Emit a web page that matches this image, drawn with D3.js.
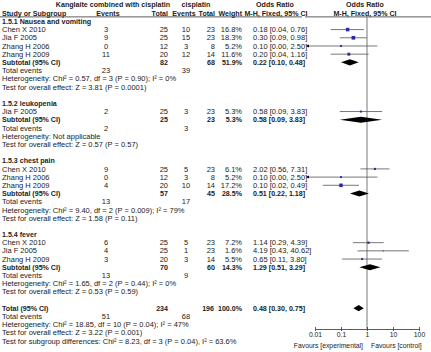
<!DOCTYPE html>
<html><head><meta charset="utf-8">
<script src="https://cdn.jsdelivr.net/npm/d3@7"></script>
<style>
html,body{margin:0;padding:0;background:#fff;}
svg{display:block;font-family:"Liberation Sans",Arial,sans-serif;}
</style></head>
<body><svg id="c" width="431" height="352"></svg>
<script>
// ---------- data ----------
const groupTitles = ["1.5.1 Nausea and vomiting","1.5.2 leukopenia","1.5.3 chest pain","1.5.4 fever"];
const studyGroup  = [0,0,0,0, 1, 2,2,2, 3,3,3];
const studyNames  = ["Chen X 2010","Jia F 2005","Zhang H 2006","Zhang H 2009","Jia F 2005","Chen X 2010","Zhang H 2006","Zhang H 2009","Chen X 2010","Jia F 2005","Zhang H 2009"];
const expEvents   = [3,9,0,11, 2, 9,0,4, 6,4,3];
const expTotal    = [25,25,12,20, 25, 25,12,20, 25,25,20];
const ctlEvents   = [10,15,3,12, 3, 5,3,10, 5,1,3];
const ctlTotal    = [23,23,8,14, 23, 23,8,14, 23,23,14];
const weights     = [16.8,18.3,5.2,11.6, 5.3, 6.1,5.2,17.2, 7.2,1.6,5.5];
const orValues    = [0.18,0.30,0.10,0.20, 0.58, 2.02,0.10,0.10, 1.14,4.19,0.65];
const ciLower     = [0.04,0.09,0.00,0.04, 0.09, 0.56,0.00,0.02, 0.29,0.43,0.11];
const ciUpper     = [0.76,0.98,2.50,1.16, 3.83, 7.31,2.50,0.49, 4.39,40.62,3.80];

const subExpTotal = [82,25,57,70];
const subCtlTotal = [68,23,45,60];
const subWeight   = [51.9,5.3,28.5,14.3];
const subOR       = [0.22,0.58,0.51,1.29];
const subLower    = [0.10,0.09,0.22,0.51];
const subUpper    = [0.48,3.83,1.18,3.29];
const subExpEvents= [23,2,13,13];
const subCtlEvents= [39,3,17,9];
const subHetero   = ["Heterogeneity: Chi² = 0.57, df = 3 (P = 0.90); I² = 0%",
                     "Heterogeneity: Not applicable",
                     "Heterogeneity: Chi² = 9.40, df = 2 (P = 0.009); I² = 79%",
                     "Heterogeneity: Chi² = 1.65, df = 2 (P = 0.44); I² = 0%"];
const subEffect   = ["Test for overall effect: Z = 3.81 (P = 0.0001)",
                     "Test for overall effect: Z = 0.57 (P = 0.57)",
                     "Test for overall effect: Z = 1.58 (P = 0.11)",
                     "Test for overall effect: Z = 0.53 (P = 0.59)"];

const totalExp = 234, totalCtl = 196, totalWeight = 100.0;
const totalOR = 0.48, totalLower = 0.30, totalUpper = 0.75;
const totalExpEvents = 51, totalCtlEvents = 68;
const totalNotes = ["Heterogeneity: Chi² = 18.85, df = 10 (P = 0.04); I² = 47%",
                    "Test for overall effect: Z = 3.22 (P = 0.001)",
                    "Test for subgroup differences: Chi² = 8.23, df = 3 (P = 0.04), I² = 63.6%"];

const tickValues = [0.01,0.1,1,10,100];
const tickLabels = ["0.01","0.1","1","10","100"];
const favourLabels = ["Favours [experimental]","Favours [control]"];

// ---------- layout ----------
const svg = d3.select("#c");
const FS = 7.5, HFS = 7.1, AFS = 6.8;
const txt = "#222";
const col = {study:2, expEv:106, expTot:168, ctlEv:186, ctlTot:215, weight:242, or:253};
const rowY = d3.scaleLinear().domain([0,41]).range([5,341]);
const x = d3.scaleLog().domain([0.01,100]).range([315,419]);
const plotLeft = 306, plotRight = 429;
const fmt2 = d3.format(".2f");
const ciText = (o,l,u) => `${fmt2(o)} [${fmt2(l)}, ${fmt2(u)}]`;

function t(xp, row, s, opts={}) {
  svg.append("text").attr("x", xp).attr("y", rowY(row)).attr("dy","0.35em")
    .attr("font-size", opts.fs || FS)
    .attr("font-weight", opts.bold ? "bold" : "normal")
    .attr("text-anchor", opts.anchor || "start")
    .attr("fill", opts.fill || txt).text(s);
}

// headers
const H = {bold:true, fs:HFS};
t(113, 0, "Kanglaite combined with cisplatin", {...H, anchor:"middle"});
t(196, 0, "cisplatin", {...H, anchor:"middle"});
t(275, 0, "Odds Ratio", {...H, anchor:"middle"});
t(365, 0, "Odds Ratio", {...H, anchor:"middle"});
t(col.study, 1, "Study or Subgroup", H);
t(col.expEv + 2, 1, "Events", {...H, anchor:"middle"});
t(col.expTot, 1, "Total", {...H, anchor:"end"});
t(col.ctlEv - 2, 1, "Events", {...H, anchor:"middle"});
t(col.ctlTot, 1, "Total", {...H, anchor:"end"});
t(col.weight, 1, "Weight", {...H, anchor:"end"});
t(276, 1, "M-H, Fixed, 95% CI", {...H, anchor:"middle"});
t(365, 1, "M-H, Fixed, 95% CI", {...H, anchor:"middle"});
const lineY = rowY(1.45);
svg.append("line").attr("x1",0).attr("x2",302).attr("y1",lineY).attr("y2",lineY).attr("stroke","#333").attr("stroke-width",0.8);
svg.append("line").attr("x1",305).attr("x2",431).attr("y1",lineY).attr("y2",lineY).attr("stroke","#333").attr("stroke-width",0.8);

// null line
svg.append("line").attr("x1",x(1)).attr("x2",x(1)).attr("y1",lineY).attr("y2",329)
  .attr("stroke","#555").attr("stroke-width",0.8);

function diamond(row, o, l, u) {
  const y = rowY(row), h = 3.1;
  svg.append("path").attr("d",
    `M${x(l)},${y} L${x(o)},${y-h} L${x(u)},${y} L${x(o)},${y+h} Z`).attr("fill","#000");
}

let row = 2;
groupTitles.forEach((g, gi) => {
  t(col.study, row, g, {bold:true, fs:HFS});
  row++;
  studyNames.forEach((name, i) => {
    if (studyGroup[i] !== gi) return;
    t(col.study, row, name);
    t(col.expEv, row, expEvents[i], {anchor:"middle"});
    t(col.expTot, row, expTotal[i], {anchor:"end"});
    t(col.ctlEv, row, ctlEvents[i], {anchor:"middle"});
    t(col.ctlTot, row, ctlTotal[i], {anchor:"end"});
    t(col.weight, row, weights[i].toFixed(1) + "%", {anchor:"end"});
    t(col.or, row, ciText(orValues[i], ciLower[i], ciUpper[i]));
    const y = rowY(row);
    const lo = ciLower[i] > 0 ? Math.max(x(ciLower[i]), plotLeft) : plotLeft;
    const hi = Math.min(x(ciUpper[i]), plotRight);
    svg.append("line").attr("x1",lo).attr("x2",hi).attr("y1",y).attr("y2",y)
      .attr("stroke","#555").attr("stroke-width",0.8);
    if (lo === plotLeft) {
      svg.append("path").attr("d",`M${lo},${y} L${lo+3},${y-1.5} L${lo+3},${y+1.5} Z`).attr("fill","#000");
    }
    const s = Math.sqrt(weights[i]) * 0.85;
    svg.append("rect").attr("x", x(orValues[i]) - s/2).attr("y", y - s/2)
      .attr("width", s).attr("height", s).attr("fill","#2a2aa8");
    row++;
  });
  t(col.study, row, "Subtotal (95% CI)", {bold:true, fs:HFS});
  t(col.expTot, row, subExpTotal[gi], {bold:true, fs:HFS, anchor:"end"});
  t(col.ctlTot, row, subCtlTotal[gi], {bold:true, fs:HFS, anchor:"end"});
  t(col.weight, row, subWeight[gi].toFixed(1) + "%", {bold:true, fs:HFS, anchor:"end"});
  t(col.or, row, ciText(subOR[gi], subLower[gi], subUpper[gi]), {bold:true, fs:HFS});
  diamond(row, subOR[gi], subLower[gi], subUpper[gi]);
  row++;
  t(col.study, row, "Total events");
  t(col.expEv, row, subExpEvents[gi], {anchor:"middle"});
  t(col.ctlEv, row, subCtlEvents[gi], {anchor:"middle"});
  row++;
  t(col.study, row, subHetero[gi]); row++;
  t(col.study, row, subEffect[gi]); row++;
  row++; // blank
});

t(col.study, row, "Total (95% CI)", {bold:true, fs:HFS});
t(col.expTot, row, totalExp, {bold:true, fs:HFS, anchor:"end"});
t(col.ctlTot - 1, row, totalCtl, {bold:true, fs:HFS, anchor:"end"});
t(col.weight, row, totalWeight.toFixed(1) + "%", {bold:true, fs:HFS, anchor:"end"});
t(col.or, row, ciText(totalOR, totalLower, totalUpper), {bold:true, fs:HFS});
diamond(row, totalOR, totalLower, totalUpper);
row++;
t(col.study, row, "Total events");
t(col.expEv, row, totalExpEvents, {anchor:"middle"});
t(col.ctlEv, row, totalCtlEvents, {anchor:"middle"});
row++;
totalNotes.forEach(n => { t(col.study, row, n); row++; });

// axis
const axisY = 329;
const ax = svg.append("g").attr("transform", `translate(0,${axisY})`)
  .call(d3.axisBottom(x).tickValues(tickValues).tickFormat((d,i)=>tickLabels[i]).tickSizeOuter(0).tickSizeInner(2).tickPadding(1));
ax.select(".domain").attr("stroke","#333").attr("stroke-width",0.8);
ax.selectAll(".tick line").attr("y1",-2).attr("y2",2).attr("stroke","#333").attr("stroke-width",0.8);
ax.selectAll(".tick text").attr("font-size",AFS).attr("fill",txt).attr("font-family","Liberation Sans, Arial, sans-serif");
svg.append("text").attr("x", x(1)-4).attr("y", 347.5).attr("font-size",AFS)
  .attr("text-anchor","end").attr("fill",txt).text(favourLabels[0]);
svg.append("text").attr("x", x(1)+4).attr("y", 347.5).attr("font-size",AFS)
  .attr("text-anchor","start").attr("fill",txt).text(favourLabels[1]);
</script></body></html>
